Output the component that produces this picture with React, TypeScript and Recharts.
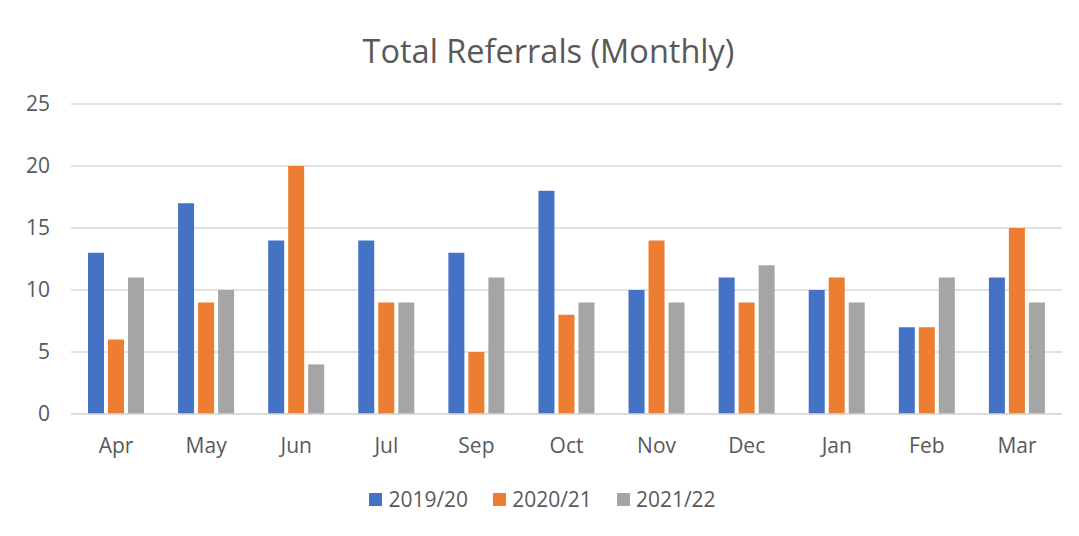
import React from "react";
import {
  BarChart,
  Bar,
  XAxis,
  YAxis,
  CartesianGrid,
  Legend,
} from "recharts";

const months = ["Apr", "May", "Jun", "Jul", "Sep", "Oct", "Nov", "Dec", "Jan", "Feb", "Mar"];
const y2019 = [13, 17, 14, 14, 13, 18, 10, 11, 10, 7, 11];
const y2020 = [6, 9, 20, 9, 5, 8, 14, 9, 11, 7, 15];
const y2021 = [11, 10, 4, 9, 11, 9, 9, 12, 9, 11, 9];
const yTicks = [0, 5, 10, 15, 20, 25];

const data = months.map((m, i) => ({
  month: m,
  "2019/20": y2019[i],
  "2020/21": y2020[i],
  "2021/22": y2021[i],
}));

const FONT = "'Open Sans', sans-serif";
const TEXT = "#595959";

const LegendContent = (props: any) => {
  const { payload } = props;
  return (
    <div style={{ display: "flex", justifyContent: "center", alignItems: "center", height: 28 }}>
      {(payload || []).map((p: any, i: number) => (
        <div
          key={p.value}
          style={{ display: "flex", alignItems: "center", marginLeft: i === 0 ? 0 : 25 }}
        >
          <div style={{ width: 13, height: 13, background: p.color, marginRight: 6 }} />
          <span style={{ fontFamily: FONT, fontSize: 21, color: TEXT }}>{p.value}</span>
        </div>
      ))}
    </div>
  );
};

const App = () => {
  return (
    <div
      style={{
        position: "relative",
        marginLeft: -1,
        marginTop: -3,
        width: 1069,
        height: 538,
        border: "1px solid #d9d9d9",
        background: "#fff",
      }}
    >
      <div
        style={{
          position: "absolute",
          top: 25,
          left: 0,
          width: 1081,
          textAlign: "center",
          fontFamily: FONT,
          fontSize: 32.5,
          color: TEXT,
          lineHeight: "40px",
        }}
      >
        Total Referrals (Monthly)
      </div>
      <BarChart
        width={1069}
        height={533}
        data={data}
        margin={{ top: 98, right: 15, left: 0, bottom: 57 }}
        barSize={16}
        barGap={4}
      >
        <CartesianGrid vertical={false} stroke="#d9d9d9" strokeWidth={1.5} />
        <XAxis
          dataKey="month"
          height={40}
          tickLine={false}
          tickSize={0}
          tickMargin={24}
          axisLine={{ stroke: "#d9d9d9", strokeWidth: 1.5 }}
          tick={{ fill: TEXT, fontSize: 21, fontFamily: FONT }}
        />
        <YAxis
          width={63}
          domain={[0, 25]}
          ticks={yTicks}
          tickLine={false}
          axisLine={false}
          tickSize={0}
          tickMargin={21}
          tick={{ fill: TEXT, fontSize: 21, fontFamily: FONT }}
        />
        <Legend
          content={LegendContent}
          wrapperStyle={{ top: 479, left: 0, width: 1069 }}
        />
        <Bar dataKey="2019/20" fill="#4472C4" isAnimationActive={false} />
        <Bar dataKey="2020/21" fill="#ED7D31" isAnimationActive={false} />
        <Bar dataKey="2021/22" fill="#A5A5A5" isAnimationActive={false} />
      </BarChart>
    </div>
  );
};

export default App;
